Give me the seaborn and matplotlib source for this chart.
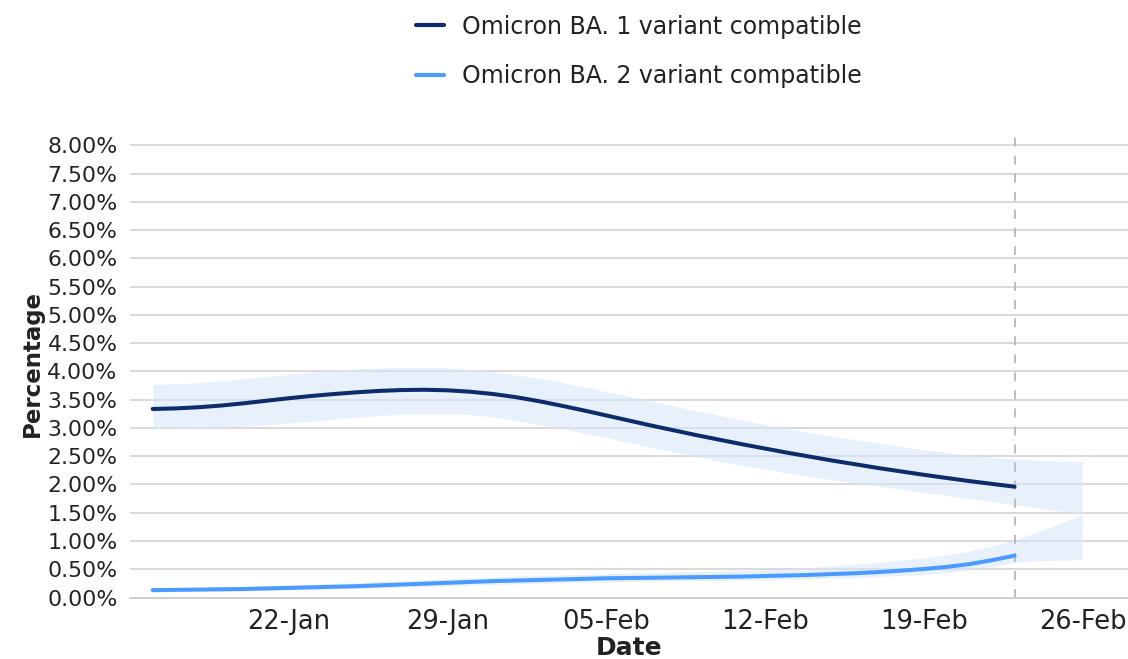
import matplotlib
matplotlib.use("Agg")
import numpy as np
import pandas as pd
import matplotlib.pyplot as plt
import seaborn as sns
from matplotlib.ticker import FuncFormatter, FixedLocator

# ---------------- data ----------------
DATES = pd.date_range("2022-01-16", "2022-02-26", freq="D")   # ribbon extent
N_LINE = 39                                                   # lines run 16-Jan .. 23-Feb

BA1 = [3.335, 3.345, 3.365, 3.395, 3.435, 3.48, 3.525, 3.565, 3.60, 3.63, 3.655, 3.67,
       3.675, 3.665, 3.64, 3.60, 3.545, 3.475, 3.395, 3.31, 3.22, 3.13, 3.04, 2.955,
       2.87, 2.79, 2.71, 2.635, 2.56, 2.49, 2.42, 2.355, 2.29, 2.23, 2.17, 2.115, 2.06,
       2.01, 1.96]
BA1_HIGH = [3.77, 3.78, 3.80, 3.83, 3.87, 3.91, 3.95, 3.99, 4.02, 4.045, 4.06, 4.07, 4.07,
            4.06, 4.03, 3.99, 3.94, 3.88, 3.81, 3.725, 3.64, 3.56, 3.47, 3.385, 3.30, 3.22,
            3.14, 3.06, 2.985, 2.915, 2.85, 2.79, 2.73, 2.67, 2.615, 2.565, 2.52, 2.48,
            2.45, 2.43, 2.41, 2.40]
BA1_LOW = [2.98, 2.985, 2.995, 3.01, 3.03, 3.055, 3.085, 3.12, 3.155, 3.19, 3.22, 3.24,
           3.25, 3.25, 3.235, 3.20, 3.13, 3.06, 2.99, 2.91, 2.83, 2.74, 2.655, 2.57, 2.49,
           2.41, 2.335, 2.265, 2.20, 2.14, 2.08, 2.025, 1.97, 1.915, 1.86, 1.805, 1.75,
           1.695, 1.64, 1.585, 1.53, 1.47]

BA2 = [0.13, 0.135, 0.14, 0.145, 0.15, 0.16, 0.17, 0.18, 0.19, 0.20, 0.215, 0.23, 0.245,
       0.26, 0.275, 0.29, 0.30, 0.31, 0.32, 0.33, 0.34, 0.345, 0.35, 0.355, 0.36, 0.365,
       0.37, 0.38, 0.39, 0.40, 0.415, 0.43, 0.45, 0.475, 0.505, 0.54, 0.59, 0.66, 0.74]
BA2_HIGH = [0.17, 0.17, 0.18, 0.19, 0.20, 0.21, 0.22, 0.23, 0.25, 0.26, 0.28, 0.29, 0.31,
            0.33, 0.35, 0.36, 0.38, 0.39, 0.40, 0.41, 0.42, 0.43, 0.44, 0.45, 0.46, 0.47,
            0.48, 0.49, 0.51, 0.53, 0.56, 0.59, 0.62, 0.66, 0.70, 0.75, 0.82, 0.91, 1.01,
            1.16, 1.31, 1.47]
BA2_LOW = [0.10, 0.10, 0.11, 0.11, 0.12, 0.13, 0.13, 0.14, 0.15, 0.16, 0.17, 0.18, 0.19,
           0.20, 0.22, 0.23, 0.24, 0.25, 0.26, 0.27, 0.27, 0.28, 0.29, 0.29, 0.30, 0.30,
           0.31, 0.31, 0.32, 0.33, 0.34, 0.35, 0.37, 0.39, 0.41, 0.44, 0.49, 0.55, 0.62,
           0.65, 0.66, 0.67]

SERIES = ["Omicron BA. 1 variant compatible", "Omicron BA. 2 variant compatible"]
COLORS = ["#0c2c6b", "#4b9bff"]
RIBBON_COLOR = "#d6e5fb"

Y_TICKS = [0.0, 0.5, 1.0, 1.5, 2.0, 2.5, 3.0, 3.5, 4.0, 4.5, 5.0, 5.5, 6.0, 6.5, 7.0, 7.5, 8.0]
X_TICKS = ["2022-01-22", "2022-01-29", "2022-02-05", "2022-02-12", "2022-02-19", "2022-02-26"]
X_TICK_LABELS = ["22-Jan", "29-Jan", "05-Feb", "12-Feb", "19-Feb", "26-Feb"]
CUTOFF = "2022-02-23"
X_RANGE = ["2022-01-15", "2022-02-28"]

# ---------------- plot ----------------
sns.set_style("white")
plt.rcParams["font.family"] = ["DejaVu Sans"]

fig = plt.figure(figsize=(11.28, 6.59), dpi=100)
ax = fig.add_axes([130 / 1128, 1 - 597.5 / 659, 1 - 130 / 1128, (597.5 - 130) / 659])

line_df = pd.DataFrame({
    "Date": list(DATES[:N_LINE]) * 2,
    "Percentage": BA1 + BA2,
    "Series": [SERIES[0]] * N_LINE + [SERIES[1]] * N_LINE,
})

# ribbons
for low, high in [(BA1_LOW, BA1_HIGH), (BA2_LOW, BA2_HIGH)]:
    ax.fill_between(DATES, low, high, color=RIBBON_COLOR, alpha=0.55, lw=0, zorder=2)

sns.lineplot(data=line_df, x="Date", y="Percentage", hue="Series",
             palette=dict(zip(SERIES, COLORS)), hue_order=SERIES,
             linewidth=2.9, errorbar=None, ax=ax, zorder=3)
for ln in ax.get_lines():
    ln.set_solid_joinstyle("round")

ax.axvline(pd.Timestamp(CUTOFF), color="#b8b8b8", lw=1.3, ls=(0, (5, 5)), zorder=2.5)

ax.set_xlim(pd.Timestamp(X_RANGE[0]), pd.Timestamp(X_RANGE[1]))
ax.set_ylim(0, 8.27)
ax.yaxis.set_major_locator(FixedLocator(Y_TICKS))
ax.yaxis.set_major_formatter(FuncFormatter(lambda v, p: f"{v:.2f}%"))
ax.set_xticks([pd.Timestamp(d) for d in X_TICKS])
ax.set_xticklabels(X_TICK_LABELS)

ax.grid(axis="y", color="#d9d9d9", lw=1.4, zorder=0)
ax.grid(axis="x", visible=False)
ax.set_axisbelow(True)
for s in ["top", "right", "left"]:
    ax.spines[s].set_visible(False)
ax.spines["bottom"].set_color("#cfcfcf")
ax.spines["bottom"].set_linewidth(1.4)

ax.tick_params(axis="y", length=0, pad=9, labelsize=15.8, labelcolor="#222222")
ax.tick_params(axis="x", length=5, width=1, color="#cfcfcf", pad=3,
               labelsize=18.5, labelcolor="#222222")

ax.set_xlabel("Date", fontsize=18, fontweight="bold", labelpad=1, color="#222222")
ax.set_ylabel("Percentage", fontsize=16.5, fontweight="bold", labelpad=2, color="#222222")

handles, labels = ax.get_legend_handles_labels()
if ax.get_legend() is not None:
    ax.get_legend().remove()
leg = fig.legend(handles, labels, loc="upper center", bbox_to_anchor=(0.566, 1.01),
                 frameon=False, fontsize=17, handlelength=1.2, handletextpad=0.75,
                 labelspacing=1.07)
for t in leg.get_texts():
    t.set_color("#222222")
for h in leg.legend_handles:
    h.set_linewidth(3)

fig.savefig("out.png", dpi=100)
